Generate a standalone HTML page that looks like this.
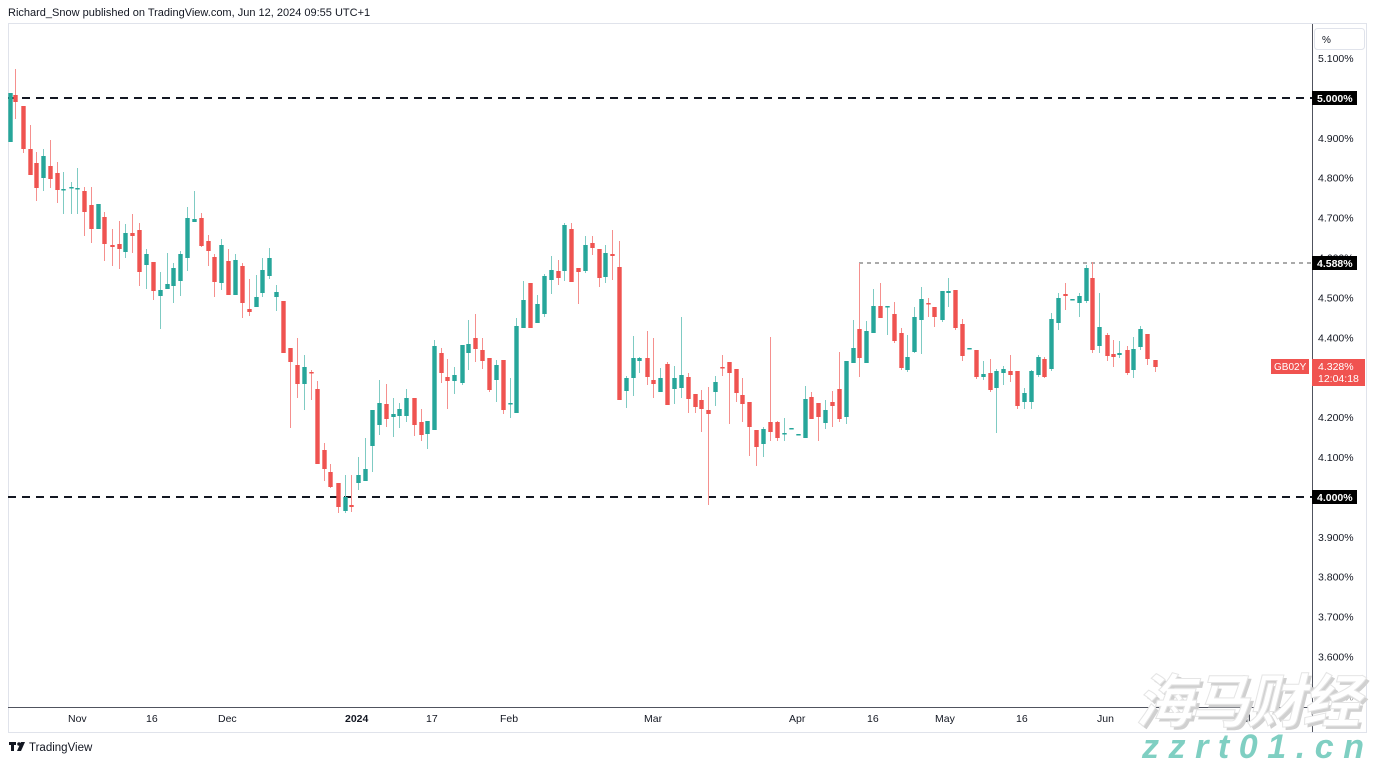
<!DOCTYPE html>
<html><head><meta charset="utf-8">
<style>
html,body{margin:0;padding:0;background:#fff;width:1377px;height:763px;overflow:hidden;font-family:"Liberation Sans","Noto Sans CJK SC",sans-serif;}
svg{position:absolute;left:0;top:0}
</style></head><body>
<svg id="s" width="1377" height="763" xmlns="http://www.w3.org/2000/svg">
<text x="8" y="16" font-size="11" fill="#131722">Richard_Snow published on TradingView.com, Jun 12, 2024 09:55 UTC+1</text>
<rect x="8.5" y="23.5" width="1358" height="709" fill="#fff" stroke="#e0e3eb"/>
<line x1="8" y1="707.5" x2="1312" y2="707.5" stroke="#50535e" stroke-width="1"/>
<line x1="1312.5" y1="24" x2="1312.5" y2="732" stroke="#50535e" stroke-width="1"/>
<rect x="1314.5" y="28.5" width="50" height="21" rx="3" fill="#fff" stroke="#e0e3eb"/>
<text x="1322" y="43" font-size="10" fill="#131722">%</text>
<line x1="8" y1="98" x2="1312" y2="98" stroke="#131722" stroke-width="2" stroke-dasharray="8,6"/>
<line x1="8" y1="497" x2="1312" y2="497" stroke="#131722" stroke-width="2" stroke-dasharray="8,6"/>
<line x1="859" y1="263" x2="1312" y2="263" stroke="#555" stroke-width="1" stroke-dasharray="4,4"/>
<line x1="859.5" y1="263" x2="859.5" y2="290" stroke="#f7a5a3" stroke-width="1"/>
<g id="c"></g>
<g id="ax" font-size="10.5" fill="#131722"></g>
<rect x="1312" y="91" width="45" height="14" fill="#000"/><text x="1317" y="102" font-size="10.5" fill="#fff" font-weight="bold">5.000%</text>
<rect x="1312" y="256" width="45" height="14" fill="#000"/><text x="1317" y="267" font-size="10.5" fill="#fff" font-weight="bold">4.588%</text>
<rect x="1312" y="490" width="45" height="14" fill="#000"/><text x="1317" y="501" font-size="10.5" fill="#fff" font-weight="bold">4.000%</text>
<rect x="1271" y="359" width="38" height="15" fill="#f05350"/><text x="1274" y="370" font-size="10" fill="#fff">GB02Y</text>
<rect x="1312" y="359" width="53" height="27" fill="#f05350"/><text x="1318" y="370" font-size="10.5" fill="#fff">4.328%</text><text x="1318" y="382" font-size="10.5" fill="#fff">12:04:18</text>
<g font-size="10.5" fill="#131722">
<text x="68" y="722">Nov</text><text x="146" y="722">16</text><text x="218" y="722">Dec</text>
<text x="345" y="722" font-weight="bold">2024</text><text x="426" y="722">17</text><text x="500" y="722">Feb</text>
<text x="644" y="722">Mar</text><text x="789" y="722">Apr</text><text x="867" y="722">16</text>
<text x="935" y="722">May</text><text x="1016" y="722">16</text><text x="1097" y="722">Jun</text><text x="1237" y="722">Jul</text>
</g>
<g transform="translate(9,742)"><rect x="0" y="0" width="7" height="3" fill="#131722"/><rect x="2" y="0" width="3" height="9" fill="#131722"/><circle cx="10" cy="2" r="1.8" fill="#131722"/><polygon points="12,0 16,0 12,9 8,9" fill="#131722"/></g>
<text x="29" y="751" font-size="11.5" fill="#131722">TradingView</text>
<text x="1135" y="722" font-size="58" font-style="italic" font-weight="bold" fill="#d0d0d0" font-family="Noto Sans CJK SC,sans-serif" transform="translate(3,3)" textLength="225">海马财经</text>
<text x="1135" y="722" font-size="58" font-style="italic" font-weight="bold" fill="#fff" stroke="#e5e5e5" stroke-width="1" font-family="Noto Sans CJK SC,sans-serif" textLength="225">海马财经</text>
<text x="1142" y="758" font-size="34" font-style="italic" font-weight="bold" fill="#7fcfc2" textLength="222" font-family="Liberation Sans,sans-serif">zzrt01.cn</text>
</svg>
<script>
var ax=document.getElementById('ax'),ns="http://www.w3.org/2000/svg";
for(var i=0;i<=16;i++){var p=5.1-i*0.1;var y=58+i*39.9;if(Math.abs(p-5)<0.01||Math.abs(p-4)<0.01)continue;
var t=document.createElementNS(ns,'text');t.setAttribute('x',1318);t.setAttribute('y',y+4);t.textContent=p.toFixed(3)+'%';if(i==16)t.setAttribute('fill','#999');ax.appendChild(t);}
var D=[
[10,'g',93,142,93,142],[15,'r',95,102,69,119],[23,'r',106,149,106,153],[30,'r',149,175,125,175],[36,'r',163,188,152,201],[43,'g',156,178,149,191],[50,'r',166,179,140,188],[57,'r',173,190,162,203],[63,'g',189,189,172,214],[71,'g',187,187,182,214],[77,'g',188,188,168,214],[84,'r',191,212,187,236],[91,'r',205,229,187,243],[98,'g',204,229,204,229],[104,'r',217,244,212,261],[112,'r',245,247,229,266],[119,'r',244,249,221,269],[125,'g',233,252,224,258],[132,'r',233,236,214,253],[139,'r',230,272,223,286],[146,'g',254,265,249,289],[153,'r',262,291,262,300],[160,'g',290,296,272,329],[167,'g',284,289,253,289],[173,'g',268,286,263,303],[180,'g',254,281,251,296],[187,'g',218,258,207,271],[194,'g',219,222,191,222],[201,'r',218,246,213,247],[208,'r',241,251,235,266],[214,'r',257,282,254,297],[221,'g',245,283,239,290],[228,'r',261,295,249,295],[235,'g',260,295,254,295],[242,'r',266,303,263,318],[249,'r',309,312,279,316],[256,'g',297,307,275,307],[262,'g',270,293,258,297],[269,'g',258,276,248,279],[276,'g',292,297,285,311],[283,'r',301,353,301,353],[290,'r',348,362,348,428],[297,'r',365,384,338,398],[304,'g',367,384,355,410],[311,'r',372,373,370,400],[317,'r',389,464,381,464],[324,'r',450,469,443,481],
[330,'r',472,487,464,488],[338,'r',483,507,483,513],[345,'g',497,511,475,513],[351,'r',505,507,475,512],[358,'g',475,483,457,490],[365,'g',469,481,438,481],[372,'g',410,446,410,472],[379,'g',403,425,380,435],[386,'r',404,419,384,427],[393,'g',414,417,398,437],[399,'g',409,416,403,428],[406,'g',398,416,389,422],[414,'r',398,425,398,436],[421,'r',422,435,409,441],[427,'g',421,434,421,449],[434,'g',346,430,340,430],[441,'r',353,373,348,383],[447,'r',377,381,359,409],[454,'g',375,381,367,394],[462,'g',345,383,345,385],[468,'g',344,353,320,370],[475,'r',338,349,314,362],[482,'r',350,361,338,369],[489,'r',358,390,358,392],[496,'g',365,380,360,402],[503,'r',360,410,360,414],[510,'g',403,403,378,418],[516,'g',326,413,318,413],[523,'g',300,328,281,328],[530,'r',283,328,283,328],[537,'g',304,323,295,323],[544,'g',276,314,274,317],[551,'g',270,280,256,294],[558,'r',271,278,260,285],[564,'g',225,271,223,281],[571,'r',229,282,223,282],[578,'r',268,272,268,304],[585,'g',245,271,236,273],[592,'r',243,248,236,255],[599,'r',249,278,249,287],[605,'g',253,277,245,283],[612,'r',254,256,230,280],[619,'r',267,400,241,400],[626,'g',378,391,376,408],[633,'g',358,378,336,396],[639,'g',358,361,357,373],[647,'r',358,377,331,385],
[653,'r',380,384,338,398],[660,'g',378,392,368,392],[667,'r',364,405,362,405],[674,'g',378,389,366,404],[681,'g',375,388,317,398],[688,'r',377,399,373,413],[695,'r',394,407,394,413],[701,'r',400,409,390,432],[708,'r',410,414,387,505],[715,'g',382,392,376,406],[722,'r',367,367,355,376],[729,'r',362,373,362,424],[736,'r',369,393,369,402],[742,'r',395,404,378,422],[749,'r',402,427,402,456],[756,'r',430,447,430,466],[763,'g',429,444,427,457],[770,'r',422,432,337,441],[777,'r',422,438,421,441],[784,'g',433,433,418,441],[791,'g',428,428,428,428],[798,'g',434,434,434,434],[805,'g',399,438,386,438],[811,'r',397,419,392,419],[818,'r',403,417,403,441],[825,'g',410,423,400,429],[832,'r',402,406,391,427],[839,'r',389,419,352,422],[846,'g',361,417,361,424],[853,'g',348,363,320,363],[859,'r',329,358,263,377],[866,'g',331,363,321,363],[873,'g',306,333,289,333],[880,'r',306,318,283,318],[887,'g',306,306,306,335],[894,'r',314,341,302,343],[901,'r',333,368,328,370],
[907,'g',357,370,335,372],[914,'g',317,352,307,353],[921,'g',299,320,287,354],[928,'r',303,304,298,317],[934,'r',307,317,307,327],[942,'g',291,320,291,322],[948,'g',291,293,278,307],[955,'r',290,328,290,330],[962,'r',324,356,319,361],[969,'g',348,348,348,348],[976,'r',350,377,350,379],[983,'g',374,377,361,380],[990,'r',373,390,359,392],[996,'g',371,388,369,433],[1003,'g',369,373,366,385],[1010,'r',371,375,355,382],[1017,'r',371,406,371,409],[1024,'g',393,402,388,409],[1031,'g',371,402,370,409],[1038,'g',357,375,355,377],[1044,'r',359,377,357,378],[1051,'g',319,369,313,371],[1058,'g',298,323,293,330],[1065,'r',294,296,283,310],[1072,'g',299,299,299,299],[1079,'g',296,303,293,317],[1086,'g',268,301,265,303],[1092,'r',278,350,262,353],[1099,'g',327,346,293,353],[1107,'r',335,356,333,361],[1113,'r',354,357,340,367],[1119,'g',353,355,341,358],[1127,'r',350,373,346,375],[1133,'g',349,370,337,378],[1140,'g',329,347,326,350],[1147,'r',334,359,334,365],[1155,'r',360,367,360,372]];
var g=document.getElementById('c'),h='';
D.forEach(function(d){var col=d[1]=='g'?'#26a69a':'#ef5350';var wc=d[1]=='g'?'#7fcbc3':'#f5908e';
h+='<line x1="'+(d[0]+0.5)+'" y1="'+d[4]+'" x2="'+(d[0]+0.5)+'" y2="'+d[5]+'" stroke="'+wc+'" stroke-width="1"/>';
var bh=Math.max(d[3]-d[2],1.5);h+='<rect x="'+(d[0]-1.7)+'" y="'+d[2]+'" width="4.4" height="'+bh+'" fill="'+col+'"/>';});
g.innerHTML=h;
</script>
</body></html>
